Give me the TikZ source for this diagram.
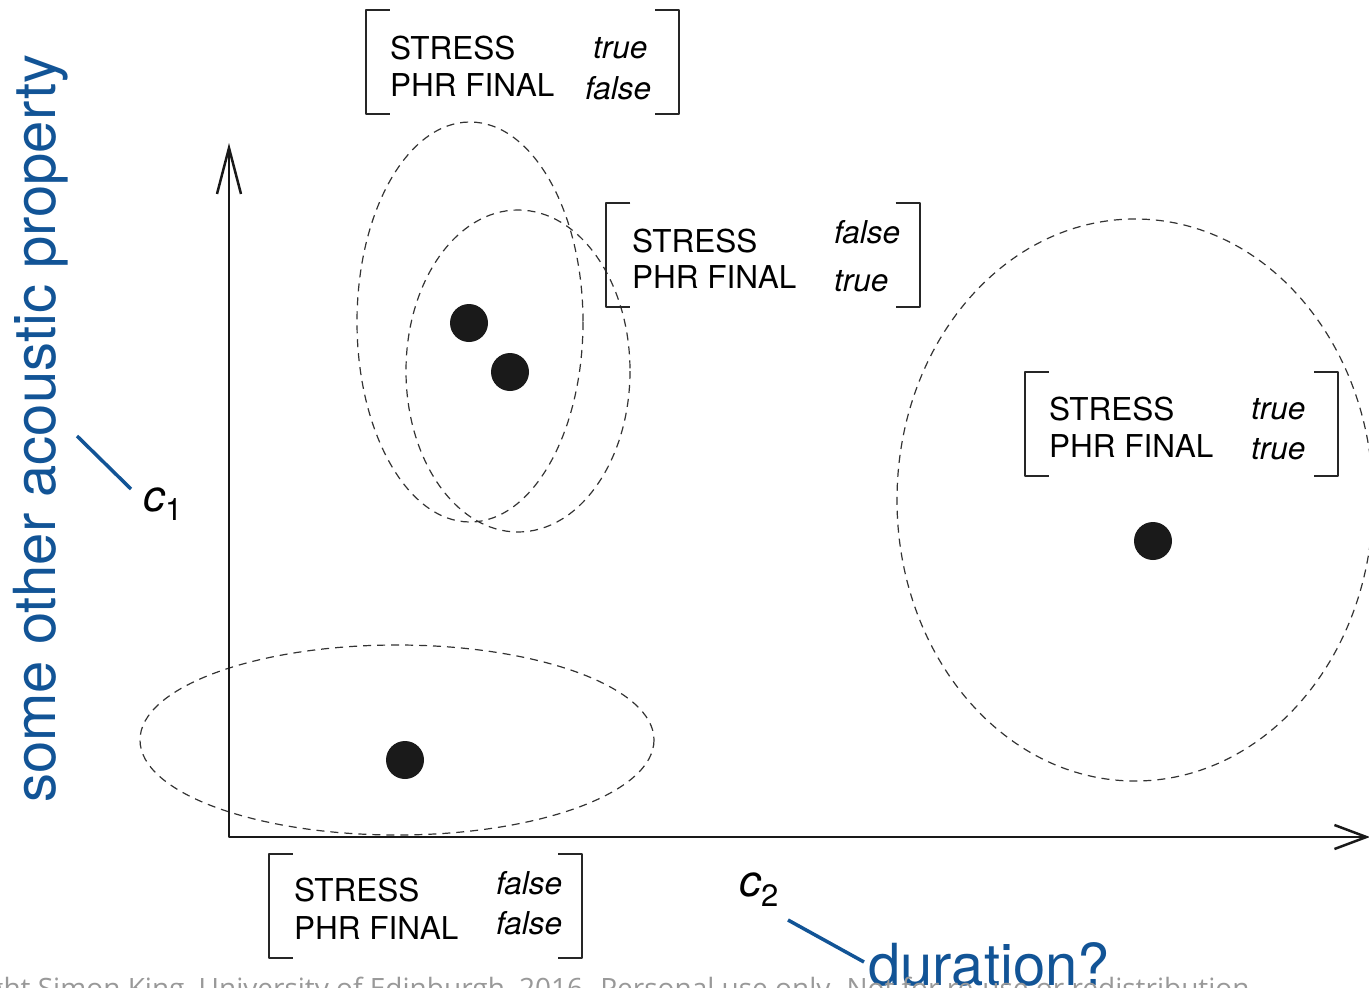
\documentclass[tikz,border=0pt]{standalone}
\usepackage{fontspec}
\setmainfont{TeX Gyre Heros}
\newfontfamily\wmfont{Open Sans}
\usetikzlibrary{arrows.meta}
\definecolor{labelblue}{RGB}{18,84,150}
\definecolor{dotgray}{RGB}{26,26,26}
\tikzset{
  brk/.style={line width=2pt, draw=black!85},
  fmat/.style={minimum width=313pt, minimum height=104pt, inner sep=0pt},
  feat/.style={anchor=base west, inner sep=0pt, font=\fontsize{31.5}{36}\selectfont},
  val/.style={feat, font=\fontsize{31.5}{36}\selectfont\itshape},
  cluster/.style={line width=1.2pt, dash pattern=on 8pt off 6pt, draw=black!80},
  token/.style={fill=dotgray},
  axis/.style={line width=2.5pt, black!90},
  lead/.style={line width=3.5pt, labelblue},
  blue label/.style={anchor=base west, inner sep=0pt, labelblue, font=\fontsize{58}{70}\selectfont},
  cname/.style={anchor=base west, inner sep=0pt, font=\fontsize{44}{50}\selectfont\itshape}
}
% brackets round a feature matrix node
\newcommand{\fbrackets}[1]{%
  \draw[brk] ([xshift=24pt]#1.north west) -| (#1.south west) -- ++(24pt,0);
  \draw[brk] ([xshift=-24pt]#1.north east) -| (#1.south east) -- ++(-24pt,0);}
\begin{document}
\begin{tikzpicture}[x=1pt, y=-1pt, line join=round]
  \useasboundingbox (0,0) rectangle (1369,988);
  \clip (0,0) rectangle (1369,988);
  % clusters
  \draw[cluster] (470,322) ellipse [x radius=113, y radius=200];
  \draw[cluster] (518,371) ellipse [x radius=112, y radius=161];
  \draw[cluster] (397,740) ellipse [x radius=257, y radius=95];
  \draw[cluster] (1135,500) ellipse [x radius=238, y radius=281];
  % tokens
  \foreach \px/\py in {469/323, 510/372, 1153/541, 405/760}
    \fill[token] (\px,\py) circle [radius=19pt];
  % axes
  \coordinate (O) at (229,837);
  \coordinate (ytop) at (229,143);
  \coordinate (xend) at (1370,837);
  \draw[axis, {Straight Barb[length=46pt,width=24pt]}-{Straight Barb[length=32pt,width=24pt]}] (ytop) -- (O) -- (xend);
  % feature matrices
  \node[fmat] (mA) at (522.5,62) {};
  \fbrackets{mA}
  \node[feat] (mAs) at (390,59) {STRESS};
  \node[feat] (mAp) at (390,96) {PHR FINAL};
  \node[val] (mAv1) at (593,58) {true};
  \node[val] (mAv2) at (585,99) {false};
  \node[fmat] (mB) at (763,255) {};
  \fbrackets{mB}
  \node[feat] (mBs) at (632,252) {STRESS};
  \node[feat] (mBp) at (632,288) {PHR FINAL};
  \node[val] (mBv1) at (834,243) {false};
  \node[val] (mBv2) at (834,291) {true};
  \node[fmat] (mC) at (1181.5,424) {};
  \fbrackets{mC}
  \node[feat] (mCs) at (1049,420) {STRESS};
  \node[feat] (mCp) at (1049,457) {PHR FINAL};
  \node[val] (mCv1) at (1251,419) {true};
  \node[val] (mCv2) at (1251,459) {true};
  \node[fmat] (mD) at (425.5,906) {};
  \fbrackets{mD}
  \node[feat] (mDs) at (294,901) {STRESS};
  \node[feat] (mDp) at (294,939) {PHR FINAL};
  \node[val] (mDv1) at (496,894) {false};
  \node[val] (mDv2) at (496,934) {false};
  % dimension names
  \node[cname] (c1) at (143,511) {c\raisebox{-9pt}{\fontsize{31}{36}\selectfont\upshape 1}};
  \node[cname] (c2) at (739,896) {c\raisebox{-10pt}{\fontsize{31}{36}\selectfont\upshape 2}};
  \node[blue label, rotate=90] (prop) at (55,803) {some other acoustic property};
  \node[blue label] (dur) at (868,985) {duration?};
  \coordinate (c1a) at (77,436);
  \coordinate (c1b) at (131,489);
  \coordinate (c2a) at (788,920);
  \coordinate (c2b) at (864,962);
  \draw[lead] (c1a) -- (c1b);
  \draw[lead] (c2a) -- (c2b);
  % watermark
  \node[anchor=base west, inner sep=0pt, black!40, font=\wmfont\fontsize{28}{32}\selectfont] (wmark) at (-12,998) {ght Simon King, University of Edinburgh, 2016. Personal use only. Not for re-use or redistribution};
\end{tikzpicture}
\end{document}
